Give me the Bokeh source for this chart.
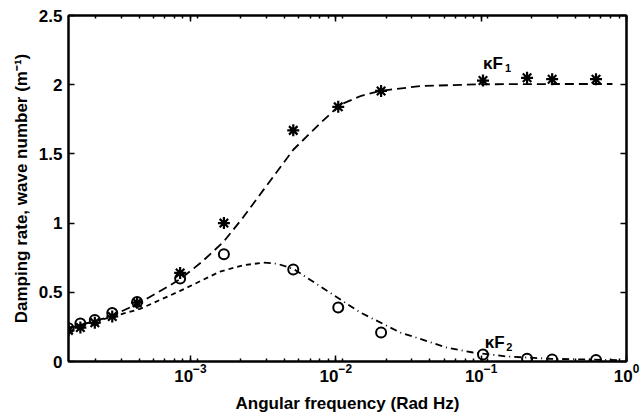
from bokeh.plotting import figure
from bokeh.models import LogAxis, LinearAxis, FixedTicker, LogTicker, CustomJSTickFormatter, Range1d
from bokeh.embed import file_html
from bokeh.resources import INLINE
from bokeh.core.properties import value

# ---- data ----
freq = [1.45e-4, 1.75e-4, 2.2e-4, 2.9e-4, 4.3e-4, 8.5e-4, 1.7e-3,
        5.1e-3, 1.04e-2, 2.05e-2, 0.103, 0.207, 0.308, 0.617]
kf1_meas = [0.225, 0.245, 0.28, 0.325, 0.425, 0.64, 1.0,
            1.67, 1.84, 1.955, 2.03, 2.05, 2.04, 2.04]
kf2_meas = [0.24, 0.275, 0.30, 0.35, 0.43, 0.60, 0.775,
            0.665, 0.39, 0.21, 0.05, 0.02, 0.015, 0.01]

fit1_freq = [1.45e-4, 2.0e-4, 2.82e-4, 4.3e-4, 6.0e-4, 8.5e-4, 1.2e-3, 1.69e-3,
             2.3e-3, 3.18e-3, 5.1e-3, 7.8e-3, 1.07e-2, 1.5e-2, 2.02e-2, 3.8e-2,
             9.8e-2, 0.3, 0.8]
fit1 = [0.24, 0.28, 0.325, 0.415, 0.5, 0.595, 0.72, 0.865,
        1.04, 1.24, 1.53, 1.72, 1.855, 1.92, 1.955, 1.99,
        2.003, 2.005, 2.005]

fit2_low_freq = [1.45e-4, 2.0e-4, 2.82e-4, 4.5e-4, 8.5e-4, 1.6e-3, 2.3e-3, 3.2e-3]
fit2_low = [0.245, 0.28, 0.32, 0.38, 0.51, 0.65, 0.695, 0.715]

fit2_high_freq = [3.2e-3, 4.0e-3, 5.1e-3, 8.75e-3, 1.47e-2, 2.77e-2, 5.83e-2,
                  8.8e-2, 0.151, 0.298, 0.86]
fit2_high = [0.715, 0.705, 0.67, 0.51, 0.355, 0.21, 0.10,
             0.065, 0.036, 0.02, 0.01]

y_ticks = [0, 0.5, 1, 1.5, 2, 2.5]
x_ticks = [1e-3, 1e-2, 1e-1, 1]
x_limits = (1.45e-4, 1.0)
y_limits = (0, 2.5)

label_kf1 = ("κF", "1")
label_kf2 = ("κF", "2")

# label anchor positions (data coordinates)
kf1_pos = (0.103, 2.153)
kf1_sub_pos = (0.146, 2.12)
kf2_pos = (0.106, 0.137)
kf2_sub_pos = (0.149, 0.105)

FONT = "Liberation Sans"

p = figure(width=642, height=416, x_axis_type="log",
           x_range=Range1d(*x_limits), y_range=Range1d(*y_limits),
           output_backend="svg", toolbar_location=None,
           min_border_left=68, min_border_right=16,
           min_border_top=15, min_border_bottom=55)
p.grid.visible = False
p.background_fill_color = "white"
p.border_fill_color = "white"
p.outline_line_color = "black"
p.outline_line_width = 2

# lines
p.line(fit1_freq, fit1, line_color="black", line_width=1.8, line_dash="9 5")
p.line(fit2_low_freq, fit2_low, line_color="black", line_width=1.8, line_dash="5 4")
p.line(fit2_high_freq, fit2_high, line_color="black", line_width=1.8, line_dash="7 4 1 4")

# markers
p.scatter(freq, kf1_meas, marker="asterisk", size=12, line_color="black", line_width=2.2)
p.scatter(freq, kf2_meas, marker="circle", size=10, line_color="black",
          fill_color=None, line_width=2)

# curve labels
for (txt, sub), pos, spos in [(label_kf1, kf1_pos, kf1_sub_pos), (label_kf2, kf2_pos, kf2_sub_pos)]:
    p.text(x=[pos[0]], y=[pos[1]], text=[txt], text_font=value(FONT),
           text_font_style="bold", text_font_size="17px",
           text_baseline="alphabetic", text_align="left", text_color="black")
    p.text(x=[spos[0]], y=[spos[1]], text=[sub], text_font=value(FONT),
           text_font_style="bold", text_font_size="11px",
           text_baseline="alphabetic", text_align="left", text_color="black")

# axes
xa = p.xaxis[0]
xa.ticker = LogTicker(num_minor_ticks=9, desired_num_ticks=4)
xa.axis_label = "Angular frequency (Rad Hz)"
ya = p.yaxis[0]
ya.ticker = FixedTicker(ticks=y_ticks)
ya.formatter = CustomJSTickFormatter(code="return String(tick);")
ya.axis_label = "Damping rate, wave number (m\u207b\u00b9)"

for ax in (xa, ya):
    ax.axis_line_width = 2
    ax.axis_line_color = "black"
    ax.major_tick_in = 6
    ax.major_tick_out = 0
    ax.minor_tick_in = 3
    ax.minor_tick_out = 0
    ax.major_tick_line_width = 1.5
    ax.minor_tick_line_width = 1.5
    ax.major_label_text_font = FONT
    ax.major_label_text_font_style = "bold"
    ax.major_label_text_font_size = "17px"
    ax.major_label_text_color = "black"
    ax.axis_label_text_font = FONT
    ax.axis_label_text_font_style = "bold"
    ax.axis_label_text_font_size = "17px"
    ax.axis_label_text_color = "black"
ya.minor_tick_line_color = None
ya.major_label_standoff = 6
ya.axis_label_standoff = 5
xa.major_label_standoff = 2
xa.axis_label_standoff = 9

# mirrored axes (top / right) with ticks only
top = LogAxis(ticker=LogTicker(num_minor_ticks=9, desired_num_ticks=4))
right = LinearAxis(ticker=FixedTicker(ticks=y_ticks))
for ax in (top, right):
    ax.axis_line_width = 2
    ax.major_tick_in = 6
    ax.major_tick_out = 0
    ax.minor_tick_in = 3
    ax.minor_tick_out = 0
    ax.major_tick_line_width = 1.5
    ax.minor_tick_line_width = 1.5
    ax.major_label_text_font_size = "1px"
    ax.major_label_text_alpha = 0
    ax.major_label_standoff = 0
right.minor_tick_line_color = None
p.add_layout(top, "above")
p.add_layout(right, "right")

open("out.html", "w").write(file_html(p, INLINE))
